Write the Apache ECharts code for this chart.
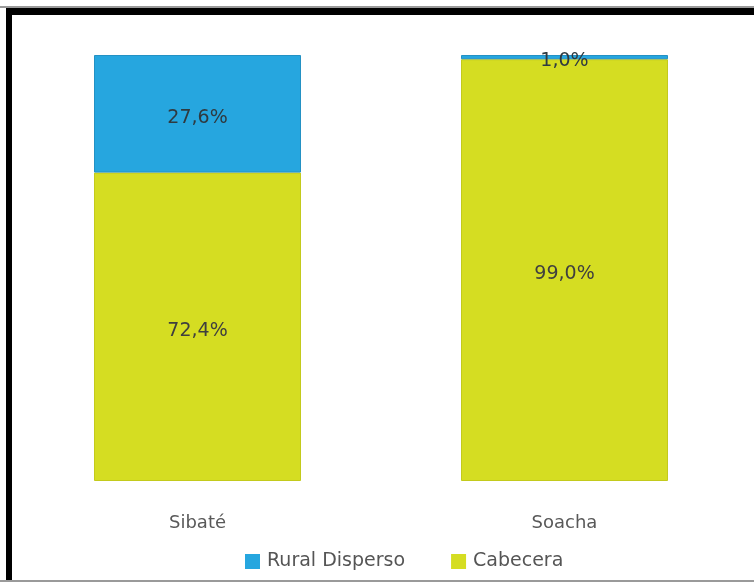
<!DOCTYPE html>
<html>
<head>
<meta charset="utf-8">
<script src="https://cdn.jsdelivr.net/npm/echarts@6/dist/echarts.min.js"></script>
<style>
  html, body { margin: 0; padding: 0; background: #ffffff; }
  #chart { width: 754px; height: 582px; }
</style>
</head>
<body>
<div id="chart"></div>
<script>
// Municipalities and share of population by area (percent)
const municipios = ['Sibaté', 'Soacha'];
const cabecera = [72.4, 99.0];
const ruralDisperso = [27.6, 1.0];

const fontFamily = '"DejaVu Sans", sans-serif';
const fmt = v => v.toFixed(1).replace('.', ',') + '%';

const chart = echarts.init(document.getElementById('chart'), null, { renderer: 'canvas' });

chart.setOption({
  animation: false,
  backgroundColor: '#ffffff',
  grid: { left: 14, right: 6, top: 55, bottom: 101, containLabel: false },
  legend: {
    bottom: 6,
    left: 240,
    itemWidth: 15,
    itemHeight: 15,
    itemGap: 46,
    icon: 'rect',
    itemStyle: { borderWidth: 0 },
    textStyle: { fontFamily, fontSize: 19, color: '#555555', padding: [0, 0, 0, 2] },
    data: ['Rural Disperso', 'Cabecera']
  },
  xAxis: {
    type: 'category',
    data: municipios,
    axisLine: { show: false },
    axisTick: { show: false },
    axisLabel: { fontFamily, fontSize: 18, color: '#595959', margin: 33 }
  },
  yAxis: {
    type: 'value',
    min: 0,
    max: 100,
    show: false,
    splitLine: { show: false }
  },
  series: [
    {
      name: 'Cabecera',
      type: 'bar',
      stack: 'total',
      barWidth: 207,
      data: cabecera,
      itemStyle: { color: '#d5dd22', borderColor: '#c3ca1c', borderWidth: 1 },
      label: {
        show: true,
        position: 'inside',
        offset: [0, 4],
        formatter: p => fmt(p.value),
        fontFamily, fontSize: 19, color: '#3f3f3f'
      }
    },
    {
      name: 'Rural Disperso',
      type: 'bar',
      stack: 'total',
      barWidth: 207,
      data: ruralDisperso,
      itemStyle: { color: '#26a6df', borderColor: '#2391c4', borderWidth: 1 },
      label: {
        show: true,
        position: 'inside',
        offset: [0, 4],
        formatter: p => fmt(p.value),
        fontFamily, fontSize: 19, color: '#2f3a40'
      }
    }
  ],
  graphic: [
    // frame: thin grey rule and thick black band across the top, black band down the left
    { type: 'rect', shape: { x: 0, y: 6, width: 754, height: 2 }, style: { fill: '#9a9a9a' }, silent: true },
    { type: 'rect', shape: { x: 6, y: 8, width: 748, height: 7 }, style: { fill: '#000000' }, silent: true },
    { type: 'rect', shape: { x: 6, y: 8, width: 6, height: 574 }, style: { fill: '#000000' }, silent: true },
    { type: 'rect', shape: { x: 0, y: 580, width: 754, height: 2 }, style: { fill: '#9a9a9a' }, silent: true }
  ]
});
</script>
</body>
</html>
